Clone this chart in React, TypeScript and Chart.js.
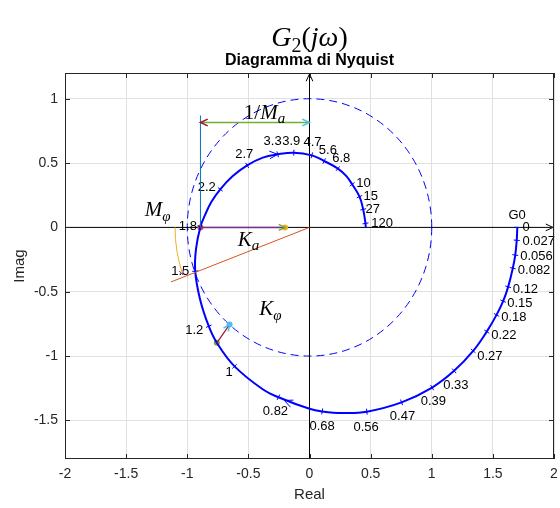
import { useEffect, useRef } from "react";
import { Chart, registerables } from "chart.js";

Chart.register(...registerables);

// ---------- axes ----------
const xRange = [-2, 2];
const yRange = [-1.8, 1.2];
const xTickValues = [-2, -1.5, -1, -0.5, 0, 0.5, 1, 1.5, 2];
const xTickLabels = ["-2", "-1.5", "-1", "-0.5", "0", "0.5", "1", "1.5", "2"];
const yTickValues = [-1.5, -1, -0.5, 0, 0.5, 1];
const yTickLabels = ["-1.5", "-1", "-0.5", "0", "0.5", "1"];

// ---------- Nyquist curve G2(jw) (w from 0 to 120) ----------
const curveRe = [
  1.7, 1.695, 1.683, 1.663, 1.625, 1.584, 1.53, 1.45, 1.339, 1.183, 1.003, 0.753, 0.469, 0.27,
  0.104, 0.0, -0.254, -0.38, -0.613, -0.758, -0.824, -0.895, -0.935, -0.928, -0.892, -0.853,
  -0.802, -0.73, -0.63, -0.51, -0.382, -0.26, -0.128, 0.019, 0.12, 0.232, 0.3, 0.349, 0.409,
  0.439, 0.458, 0.46,
];
const curveIm = [
  0.0, -0.1, -0.215, -0.317, -0.462, -0.573, -0.68, -0.81, -0.96, -1.115, -1.245, -1.36, -1.432,
  -1.442, -1.43, -1.41, -1.32, -1.26, -1.08, -0.897, -0.768, -0.56, -0.34, -0.165, 0.005, 0.1,
  0.199, 0.296, 0.397, 0.482, 0.542, 0.568, 0.581, 0.56, 0.516, 0.457, 0.4, 0.335, 0.239, 0.14,
  0.031, 0.0,
];

// ---------- frequency markers ----------
const freqLabels = [
  "0", "0.027", "0.056", "0.082", "0.12", "0.15", "0.18", "0.22", "0.27", "0.33", "0.39", "0.47",
  "0.56", "0.68", "0.82", "1", "1.2", "1.5", "1.8", "2.2", "2.7", "3.3", "3.9", "4.7", "5.6", "6.8",
  "10", "15", "27", "120",
];
const freqRe = [
  1.7, 1.695, 1.683, 1.663, 1.625, 1.584, 1.53, 1.45, 1.339, 1.183, 1.003, 0.753, 0.469, 0.104,
  -0.254, -0.613, -0.824, -0.935, -0.892, -0.73, -0.51, -0.26, -0.128, 0.019, 0.12, 0.232, 0.349,
  0.409, 0.439, 0.458,
];
const freqIm = [
  0.0, -0.1, -0.215, -0.317, -0.462, -0.573, -0.68, -0.81, -0.96, -1.115, -1.245, -1.36, -1.432,
  -1.43, -1.32, -1.08, -0.768, -0.34, 0.005, 0.296, 0.482, 0.568, 0.581, 0.56, 0.516, 0.457, 0.335,
  0.239, 0.14, 0.031,
];
const freqLabelRe = [
  1.742, 1.742, 1.724, 1.704, 1.663, 1.617, 1.568, 1.486, 1.372, 1.094, 0.91, 0.657, 0.36, 0.0,
  -0.382, -0.687, -1.017, -1.131, -1.069, -0.914, -0.608, -0.376, -0.223, -0.049, 0.076, 0.186,
  0.382, 0.442, 0.458, 0.505,
];
const freqLabelIm = [
  0.0, -0.109, -0.228, -0.335, -0.482, -0.594, -0.703, -0.84, -1.002, -1.227, -1.356, -1.468,
  -1.551, -1.546, -1.434, -1.126, -0.799, -0.34, 0.005, 0.309, 0.568, 0.667, 0.667, 0.659, 0.602,
  0.535, 0.342, 0.239, 0.14, 0.031,
];

// direction arrows on the curve (tip, and a point in the direction of travel)
const dirArrowRe = [-0.26, -0.205];
const dirArrowIm = [0.568, -1.345];
const dirTowardRe = [-0.1, -0.33];
const dirTowardIm = [0.58, -1.295];

// ---------- construction marks ----------
const circleRadius = 1;
const phaseArcRadius = 1.1;
const phaseArcDeg = [180, 199.5];
const gainCrossRe = -0.892; // where the curve crosses the negative real axis
const marginLineTop = 0.87;
const invMaArrowIm = 0.815;
const kaArrowEndRe = -0.2;
const phaseLineEnd = [-1.133, -0.424];
const kphiFrom = [-0.758, -0.897];
const kphiTo = [-0.654, -0.755];

const markerRe = [gainCrossRe, kaArrowEndRe, kphiFrom[0], kphiTo[0]];
const markerIm = [0, 0, kphiFrom[1], kphiTo[1]];
const markerColors = ["#D95319", "#EDB120", "#77AC30", "#4DBEEE"];

const mathLabels = [
  { parts: [{ t: "1/" }, { t: "M", i: true }, { t: "a", i: true, s: true }], re: -0.368, im: 0.9 },
  { parts: [{ t: "M", i: true }, { t: "φ", i: true, s: true }], re: -1.243, im: 0.14 },
  { parts: [{ t: "K", i: true }, { t: "a", i: true, s: true }], re: -0.499, im: -0.093 },
  { parts: [{ t: "K", i: true }, { t: "φ", i: true, s: true }], re: -0.319, im: -0.63 },
];
const g0Label = { text: "G0", re: 1.698, im: 0.093 };

const SANS = '"Liberation Sans", Arial, Helvetica, sans-serif';
const SERIF = '"Liberation Serif", "Times New Roman", serif';

type Part = { t: string; i?: boolean; s?: boolean };

function drawMath(ctx: CanvasRenderingContext2D, parts: Part[], cx: number, cy: number, size: number) {
  const font = (p: Part) => `${p.i ? "italic " : ""}${p.s ? Math.round(size * 0.7) : size}px ${SERIF}`;
  let w = 0;
  for (const p of parts) {
    ctx.font = font(p);
    w += ctx.measureText(p.t).width;
  }
  let x = cx - w / 2;
  const base = cy + size * 0.33;
  ctx.textAlign = "left";
  ctx.textBaseline = "alphabetic";
  for (const p of parts) {
    ctx.font = font(p);
    ctx.fillText(p.t, x, base + (p.s ? size * 0.2 : 0));
    x += ctx.measureText(p.t).width;
  }
}

function arrowHead(
  ctx: CanvasRenderingContext2D,
  tx: number,
  ty: number,
  ang: number,
  len: number,
  color: string,
  lw = 1
) {
  const a = (25 * Math.PI) / 180;
  ctx.save();
  ctx.strokeStyle = color;
  ctx.lineWidth = lw;
  ctx.beginPath();
  ctx.moveTo(tx - len * Math.cos(ang - a), ty - len * Math.sin(ang - a));
  ctx.lineTo(tx, ty);
  ctx.lineTo(tx - len * Math.cos(ang + a), ty - len * Math.sin(ang + a));
  ctx.stroke();
  ctx.restore();
}

function line(ctx: CanvasRenderingContext2D, x1: number, y1: number, x2: number, y2: number, color: string, lw = 1) {
  ctx.save();
  ctx.strokeStyle = color;
  ctx.lineWidth = lw;
  ctx.beginPath();
  ctx.moveTo(x1, y1);
  ctx.lineTo(x2, y2);
  ctx.stroke();
  ctx.restore();
}

const annotPlugin = {
  id: "annot",
  beforeDatasetsDraw(chart: any) {
    const { ctx, chartArea: a } = chart;
    const X = (v: number) => chart.scales.x.getPixelForValue(v);
    const Y = (v: number) => chart.scales.y.getPixelForValue(v);
    ctx.save();
    ctx.beginPath();
    ctx.rect(a.left, a.top, a.right - a.left, a.bottom - a.top);
    ctx.clip();
    // unit circle (dashed)
    const cx = X(0), cy = Y(0);
    const rx = X(circleRadius) - cx, ry = cy - Y(circleRadius);
    ctx.setLineDash([8, 5]);
    ctx.strokeStyle = "#0000FF";
    ctx.lineWidth = 1;
    ctx.beginPath();
    ctx.ellipse(cx, cy, rx, ry, 0, 0, 2 * Math.PI);
    ctx.stroke();
    ctx.setLineDash([]);
    // real / imaginary axes with arrows
    line(ctx, X(xRange[0]), cy, X(xRange[1]) - 1, cy, "#000", 1);
    arrowHead(ctx, X(xRange[1]) - 1, cy, 0, 8, "#000", 1);
    line(ctx, cx, Y(yRange[0]), cx, Y(yRange[1]) + 1, "#000", 1);
    arrowHead(ctx, cx, Y(yRange[1]) + 1, -Math.PI / 2, 8, "#000", 1);
    ctx.restore();
  },
  afterDatasetsDraw(chart: any) {
    const { ctx } = chart;
    const X = (v: number) => chart.scales.x.getPixelForValue(v);
    const Y = (v: number) => chart.scales.y.getPixelForValue(v);
    ctx.save();
    // frequency tick marks
    for (let i = 0; i < freqRe.length; i++) {
      const j0 = Math.max(0, i - 1), j1 = Math.min(freqRe.length - 1, i + 1);
      const dx = X(freqRe[j1]) - X(freqRe[j0]);
      const dy = Y(freqIm[j1]) - Y(freqIm[j0]);
      const L = Math.hypot(dx, dy) || 1;
      const nx = -dy / L, ny = dx / L;
      const px = X(freqRe[i]), py = Y(freqIm[i]);
      line(ctx, px - nx * 3, py - ny * 3, px + nx * 3, py + ny * 3, "#0000FF", 1);
    }
    // direction arrows on the curve
    for (let i = 0; i < dirArrowRe.length; i++) {
      const tx = X(dirArrowRe[i]), ty = Y(dirArrowIm[i]);
      const ang = Math.atan2(Y(dirTowardIm[i]) - ty, X(dirTowardRe[i]) - tx);
      arrowHead(ctx, tx, ty, ang, 9, "#0000FF", 1);
    }
    // frequency labels
    ctx.fillStyle = "#000";
    ctx.font = `13px ${SANS}`;
    ctx.textAlign = "left";
    ctx.textBaseline = "middle";
    for (let i = 0; i < freqLabels.length; i++) {
      ctx.fillText(freqLabels[i], X(freqLabelRe[i]), Y(freqLabelIm[i]));
    }
    ctx.textAlign = "center";
    ctx.fillText(g0Label.text, X(g0Label.re), Y(g0Label.im));

    // 1/Ma construction
    const gx = X(gainCrossRe), y0 = Y(0);
    line(ctx, gx, y0, gx, Y(marginLineTop), "#0072BD", 1);
    const ay = Y(invMaArrowIm);
    line(ctx, gx, ay, X(0), ay, "#77AC30", 1.5);
    arrowHead(ctx, gx, ay, Math.PI, 8, "#A2142F", 1.5);
    arrowHead(ctx, X(0), ay, 0, 8, "#4DBEEE", 1.5);
    // Ka arrow on the real axis
    line(ctx, gx, y0, X(kaArrowEndRe), y0, "#7E2F8E", 1.5);
    arrowHead(ctx, X(kaArrowEndRe), y0, 0, 7, "#77AC30", 1.5);
    // phase margin line
    line(ctx, X(0), y0, X(phaseLineEnd[0]), Y(phaseLineEnd[1]), "#D95319", 1);
    // phase margin arc
    const cx = X(0), cy = Y(0);
    const rx = X(phaseArcRadius) - cx, ry = cy - Y(phaseArcRadius);
    const t0 = (-phaseArcDeg[0] * Math.PI) / 180, t1 = (-phaseArcDeg[1] * Math.PI) / 180;
    ctx.strokeStyle = "#EDB120";
    ctx.lineWidth = 1;
    ctx.beginPath();
    ctx.ellipse(cx, cy, rx, ry, 0, t0, t1, true);
    ctx.stroke();
    const ex = cx + rx * Math.cos(t1), ey = cy + ry * Math.sin(t1);
    const tang = Math.atan2(-ry * Math.cos(t1), rx * Math.sin(t1));
    arrowHead(ctx, ex, ey, tang, 5, "#7E2F8E", 1);
    // K phi arrow
    const fx = X(kphiFrom[0]), fy = Y(kphiFrom[1]), tx = X(kphiTo[0]), ty = Y(kphiTo[1]);
    line(ctx, fx, fy, tx, ty, "#A2142F", 1.2);
    arrowHead(ctx, tx, ty, Math.atan2(ty - fy, tx - fx), 7, "#4DBEEE", 1.5);

    // math labels
    ctx.fillStyle = "#000";
    for (const m of mathLabels) drawMath(ctx, m.parts, X(m.re), Y(m.im), 21);
    ctx.restore();
  },
  afterDraw(chart: any) {
    const { ctx, chartArea: a } = chart;
    const X = (v: number) => chart.scales.x.getPixelForValue(v);
    const Y = (v: number) => chart.scales.y.getPixelForValue(v);
    ctx.save();
    // box & inward ticks
    ctx.strokeStyle = "#262626";
    ctx.lineWidth = 1;
    ctx.strokeRect(a.left + 0.5, a.top + 0.5, a.right - a.left - 1, a.bottom - a.top - 1);
    ctx.beginPath();
    for (const v of xTickValues) {
      const p = Math.round(X(v)) + 0.5;
      ctx.moveTo(p, a.bottom);
      ctx.lineTo(p, a.bottom - 5);
      ctx.moveTo(p, a.top);
      ctx.lineTo(p, a.top + 5);
    }
    for (const v of yTickValues) {
      const p = Math.round(Y(v)) + 0.5;
      ctx.moveTo(a.left, p);
      ctx.lineTo(a.left + 5, p);
      ctx.moveTo(a.right, p);
      ctx.lineTo(a.right - 5, p);
    }
    ctx.stroke();
    // titles
    ctx.fillStyle = "#000";
    ctx.textAlign = "center";
    ctx.textBaseline = "middle";
    ctx.font = `bold 16px ${SANS}`;
    ctx.fillText("Diagramma di Nyquist", X(0), 61);
    drawMath(
      ctx,
      [{ t: "G", i: true }, { t: "2", s: true }, { t: "(" }, { t: "j", i: true }, { t: "ω", i: true }, { t: ")" }],
      X(0),
      37,
      28
    );
    ctx.fillStyle = "#262626";
    ctx.font = `15px ${SANS}`;
    ctx.textAlign = "center";
    ctx.textBaseline = "middle";
    ctx.fillText("Real", X(0), 495);
    ctx.save();
    ctx.translate(20, (a.top + a.bottom) / 2);
    ctx.rotate(-Math.PI / 2);
    ctx.fillText("Imag", 0, 0);
    ctx.restore();
    ctx.restore();
  },
};

export default function App() {
  const ref = useRef<HTMLCanvasElement>(null);
  useEffect(() => {
    document.body.style.margin = "0";
    const canvas = ref.current!;
    const chart = new Chart(canvas, {
      type: "scatter",
      data: {
        datasets: [
          {
            label: "G2",
            data: curveRe.map((x, i) => ({ x, y: curveIm[i] })),
            showLine: true,
            borderColor: "#0000FF",
            borderWidth: 2,
            pointRadius: 0,
            tension: 0.4,
            fill: false,
          },
          {
            label: "markers",
            data: markerRe.map((x, i) => ({ x, y: markerIm[i] })),
            pointRadius: 3,
            pointBackgroundColor: markerColors,
            pointBorderColor: markerColors,
            pointBorderWidth: 0,
            showLine: false,
          },
        ],
      },
      options: {
        responsive: false,
        animation: false,
        devicePixelRatio: 1,
        layout: { padding: { left: 0, right: 6, top: 73, bottom: 0 } },
        plugins: { legend: { display: false }, tooltip: { enabled: false }, title: { display: false } },
        scales: {
          x: {
            type: "linear",
            min: xRange[0],
            max: xRange[1],
            afterBuildTicks: (s: any) => {
              s.ticks = xTickValues.map((value) => ({ value }));
            },
            afterFit: (s: any) => {
              s.height = 49;
              s.paddingLeft = 0;
              s.paddingRight = 0;
            },
            grid: { color: "#e0e0e0", lineWidth: 1, drawTicks: false },
            border: { display: false },
            ticks: {
              padding: 7,
              color: "#262626",
              font: { family: SANS, size: 14 },
              maxRotation: 0,
              callback: (_v: any, i: number) => xTickLabels[i],
            },
          },
          y: {
            type: "linear",
            min: yRange[0],
            max: yRange[1],
            afterBuildTicks: (s: any) => {
              s.ticks = yTickValues.map((value) => ({ value }));
            },
            afterFit: (s: any) => {
              s.width = 65;
              s.paddingTop = 0;
              s.paddingBottom = 0;
            },
            grid: { color: "#e0e0e0", lineWidth: 1, drawTicks: false },
            border: { display: false },
            ticks: {
              padding: 7,
              color: "#262626",
              font: { family: SANS, size: 14 },
              callback: (_v: any, i: number) => yTickLabels[i],
            },
          },
        },
      },
      plugins: [annotPlugin],
    });
    return () => chart.destroy();
  }, []);
  return <canvas ref={ref} width={560} height={508} style={{ display: "block", width: 560, height: 508 }} />;
}
